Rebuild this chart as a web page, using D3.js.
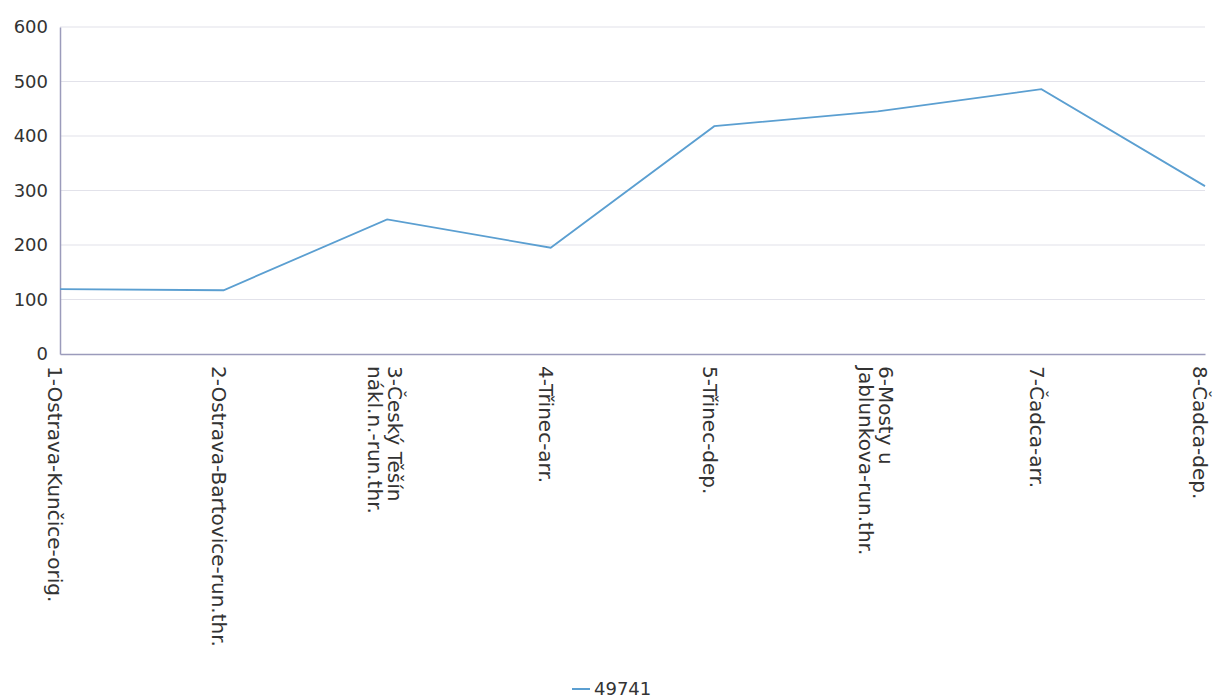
<!DOCTYPE html>
<html>
<head>
<meta charset="utf-8">
<script src="https://cdn.jsdelivr.net/npm/d3@7"></script>
<style>
  html, body { margin: 0; padding: 0; background: #fff; }
  svg { display: block; font-family: "DejaVu Sans", sans-serif; }
</style>
</head>
<body>
<svg id="chart" width="1215" height="698"></svg>
<script>
const categories = [
  ["1-Ostrava-Kunčice-orig."],
  ["2-Ostrava-Bartovice-run.thr."],
  ["3-Český Těšín", "nákl.n.-run.thr."],
  ["4-Třinec-arr."],
  ["5-Třinec-dep."],
  ["6-Mosty u", "Jablunkova-run.thr."],
  ["7-Čadca-arr."],
  ["8-Čadca-dep."]
];
const seriesName = "49741";
const values = [119, 117, 247, 195, 418, 445, 486, 308];
const yTicks = [0, 100, 200, 300, 400, 500, 600];

(function () {
const svg = d3.select("#chart");
const mLeft = 60, mRight = 1205, mTop = 27, mBottom = 354;

const x = d3.scalePoint().domain(d3.range(categories.length)).range([mLeft, mRight]);
const y = d3.scaleLinear().domain([0, 600]).range([mBottom, mTop]);

// gridlines
svg.append("g").selectAll("line").data(yTicks.filter(d => d > 0)).join("line")
  .attr("x1", mLeft).attr("x2", mRight)
  .attr("y1", d => y(d)).attr("y2", d => y(d))
  .attr("stroke", "#e2e2ea").attr("stroke-width", 1.2);

// y axis
const yAxis = svg.append("g").attr("transform", `translate(${mLeft},0)`)
  .call(d3.axisLeft(y).tickValues(yTicks).tickSize(0).tickPadding(12));
yAxis.select(".domain").attr("stroke", "#9b9bbb").attr("stroke-width", 1.5);
yAxis.selectAll("text").attr("font-size", 18).attr("fill", "#333")
  .attr("font-family", "DejaVu Sans, sans-serif");

// x axis
const xAxis = svg.append("g").attr("transform", `translate(0,${mBottom})`)
  .call(d3.axisBottom(x).tickSize(0).tickFormat(""));
xAxis.select(".domain").attr("stroke", "#9b9bbb").attr("stroke-width", 1.5);

// x labels
const lab = svg.append("g").selectAll("text").data(categories).join("text")
  .attr("transform", (d, i) => `translate(${x(i)},${mBottom}) rotate(90)`)
  .attr("font-size", 20).attr("fill", "#333")
  .attr("font-family", "DejaVu Sans, sans-serif");
lab.each(function(lines) {
  const t = d3.select(this);
  const n = lines.length;
  lines.forEach((s, j) => {
    t.append("tspan").attr("x", 12)
      .attr("y", 11.7 - (n - 1) * 12.5 + j * 20)
      .text(s);
  });
});

// line
const line = d3.line().x((d, i) => x(i)).y(d => y(d));
svg.append("path").datum(values)
  .attr("d", line).attr("fill", "none")
  .attr("stroke", "#5b9fd1").attr("stroke-width", 1.8);

// legend
const lg = svg.append("g");
lg.append("line").attr("x1", 572).attr("x2", 590).attr("y1", 689).attr("y2", 689)
  .attr("stroke", "#5b9fd1").attr("stroke-width", 2);
lg.append("text").attr("x", 594).attr("y", 695).attr("font-size", 18)
  .attr("fill", "#333").text(seriesName);
})();
</script>
</body>
</html>
